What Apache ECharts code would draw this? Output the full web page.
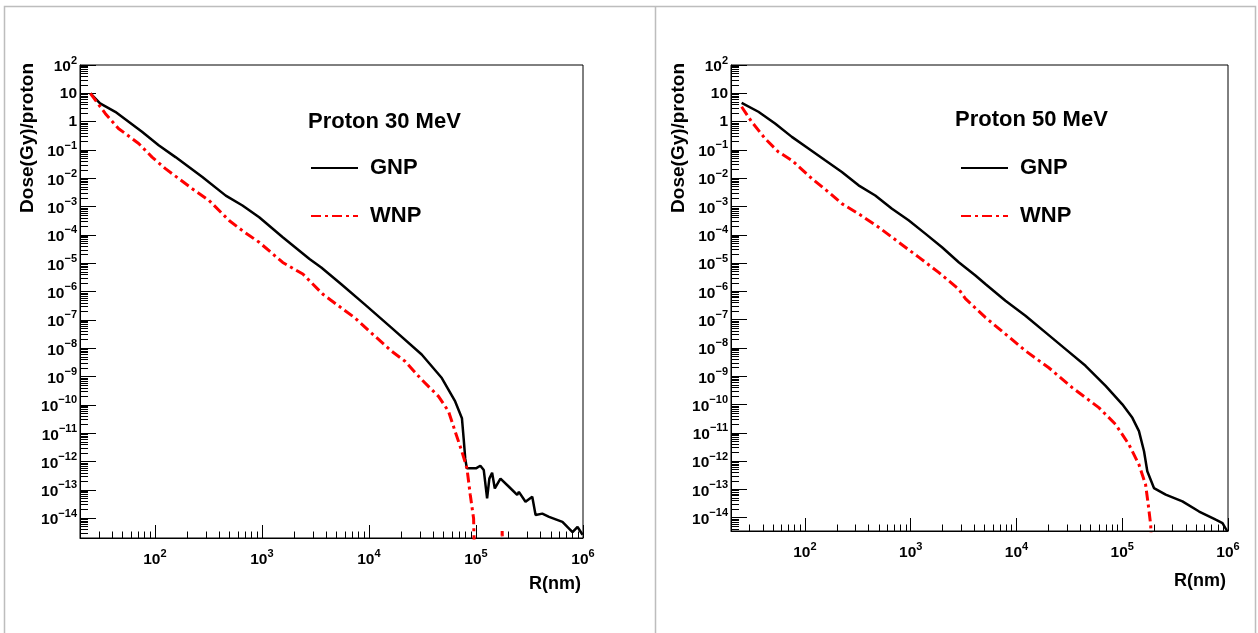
<!DOCTYPE html>
<html><head><meta charset="utf-8">
<script src="https://cdn.jsdelivr.net/npm/echarts@6/dist/echarts.min.js"></script>
<style>html,body{margin:0;padding:0;background:#fff}#c{width:1258px;height:633px}</style>
</head><body><div id="c"></div>
<script>
// ---------------- data ----------------
// Proton 30 MeV
const r30Gnp = [25, 30.8, 42.7, 75.9, 108.6, 156, 278, 460, 659, 944, 1567, 2786, 3589, 5521, 9141, 16290, 31120, 47970, 63970, 73960, 76740, 79430, 82220, 100000, 109900, 118300, 127100, 133400, 141600, 150000, 169400, 203200, 242700, 251800, 290400, 335700, 360600, 416900, 482000, 642700, 798000, 889200, 990800];
const d30Gnp = [10, 4.4, 2.23, 0.44, 0.148, 0.056, 0.0112, 2.45e-3, 1.1e-3, 4.2e-4, 8.3e-5, 1.41e-5, 7.1e-6, 1.82e-6, 3.55e-7, 5.25e-8, 6.0e-9, 8.9e-10, 1.32e-10, 3.4e-11, 6.6e-12, 1.26e-12, 5.75e-13, 5.75e-13, 7.1e-13, 5.0e-13, 5.0e-14, 2.5e-13, 4.0e-13, 1.12e-13, 2.5e-13, 1.29e-13, 6.6e-14, 8.5e-14, 3.8e-14, 5.75e-14, 1.29e-14, 1.45e-14, 1.12e-14, 7.4e-15, 3.2e-15, 4.9e-15, 2.6e-15];
const r30Wnp = [25, 34.4, 45.7, 70.6, 94.2, 125.6, 223.9, 320.6, 494.3, 659, 944, 1567, 2415, 3715, 5728, 7362, 11350, 16290, 21730, 31120, 44670, 55460, 63970, 73960, 82410, 88510, 95060, 97700, 172000, 175800, 179000, 1000000];
// empty bins (drawn below the frame) are given as 1e-16
const d30Wnp = [10, 1.95, 0.575, 0.17, 0.056, 0.0219, 4.27e-3, 1.66e-3, 3.24e-4, 1.41e-4, 5.5e-5, 1.07e-5, 4.17e-6, 8.1e-7, 2.4e-7, 1.2e-7, 2.69e-8, 7.9e-9, 3.47e-9, 7.8e-10, 2.0e-10, 5.9e-11, 1.15e-11, 2.24e-12, 5.75e-13, 6.6e-14, 9.8e-15, 1e-16, 1e-16, 3.5e-15, 1e-16, 1e-16];
// Proton 50 MeV
const r50Gnp = [25.2, 36.3, 52.2, 75.2, 107.9, 155.2, 223.4, 321.4, 462.4, 665.3, 955, 1374, 1977, 2844, 4093, 5082, 7870, 12160, 18790, 29110, 44980, 69660, 100200, 124700, 143900, 160700, 172600, 199500, 257600, 370700, 533300, 765600, 887200, 988600];
const d50Gnp = [4.6, 2.23, 0.863, 0.288, 0.112, 0.0427, 0.0166, 5.6e-3, 2.45e-3, 8.3e-4, 3.24e-4, 1.1e-4, 3.63e-5, 1.07e-5, 3.63e-6, 1.82e-6, 4.68e-7, 1.38e-7, 3.55e-8, 9.1e-9, 2.34e-9, 4.57e-10, 1.02e-10, 3.39e-11, 1.15e-11, 2.24e-12, 4.37e-13, 1.12e-13, 6.6e-14, 3.8e-14, 1.66e-14, 8.5e-15, 6.5e-15, 3.2e-15];
const r50Wnp = [25.2, 31.4, 42, 56.1, 75.2, 116.1, 166.7, 223.4, 321.4, 496.6, 767.4, 1189, 1837, 2844, 3289, 5082, 7870, 12160, 20230, 33650, 60120, 86500, 115600, 143900, 166300, 176200, 185800, 192800, 1000000];
const d50Wnp = [3.35, 0.98, 0.251, 0.085, 0.0427, 9.8e-3, 3.24e-3, 1.26e-3, 5.5e-4, 1.86e-4, 5.5e-5, 1.62e-5, 4.68e-6, 1.2e-6, 5.5e-7, 1.2e-7, 3.1e-8, 7.9e-9, 2.0e-9, 3.98e-10, 7.8e-11, 2.0e-11, 3.9e-12, 7.6e-13, 1.48e-13, 2.9e-14, 5.6e-15, 1e-16, 1e-16];

const panelTitles = ['Proton 30 MeV', 'Proton 50 MeV'];
const seriesNames = ['GNP', 'WNP'];
const xMajor = [1e2, 1e3, 1e4, 1e5, 1e6];
const yMajor = [1e-14, 1e-13, 1e-12, 1e-11, 1e-10, 1e-9, 1e-8, 1e-7, 1e-6, 1e-5, 1e-4, 1e-3, 1e-2, 1e-1, 1, 10, 100];
const xRange = [20, 1e6];
const yRanges = [[2e-15, 100], [3.4e-15, 100]];
const xTitle = 'R(nm)';
const yTitle = 'Dose(Gy)/proton';

// ---------------- helpers ----------------
const FONT = '"Liberation Sans", Arial, Helvetica, sans-serif';
function minorTicks(lo, hi) {
  const out = [];
  for (let d = Math.floor(Math.log10(lo)) - 1; d <= Math.ceil(Math.log10(hi)); d++) {
    for (let k = 2; k <= 9; k++) {
      const v = k * Math.pow(10, d);
      if (v > lo * 1.0001 && v < hi * 0.9999) out.push(v);
    }
  }
  return out;
}
function sci(v) {
  const e = Math.round(Math.log10(v));
  if (e === 0) return '1';
  if (e === 1) return '10';
  return '{b|10}{s|' + (e < 0 ? '\u2212' + (-e) : e) + '}';
}
const rich = {
  b: { fontSize: 15.5, fontWeight: 'bold', fontFamily: FONT, color: '#000', lineHeight: 20, verticalAlign: 'bottom' },
  s: { fontSize: 11, fontWeight: 'bold', fontFamily: FONT, color: '#000', lineHeight: 11, verticalAlign: 'top' }
};
function pairs(xs, ys) { return xs.map((x, i) => [x, ys[i]]); }

const grids = [
  { left: 80, top: 65, width: 503, height: 473 },
  { left: 731, top: 65, width: 497, height: 466 }
];
const legendLeft = [310, 960];
const titleLeft = [308, 955];
const titleTop = [111, 109];
const xNamePad = [37, 41];

const option = {
  animation: false,
  backgroundColor: '#fff',
  grid: grids.map(g => Object.assign({ show: true, borderColor: '#000', borderWidth: 1, backgroundColor: 'transparent', containLabel: false }, g)),
  title: panelTitles.map((t, i) => ({
    text: t, left: titleLeft[i], top: titleTop[i], padding: 0,
    textStyle: { fontSize: 22, fontWeight: 'bold', color: '#000', fontFamily: FONT }
  })),
  legend: [0, 1].map(i => ({
    data: seriesNames, orient: 'vertical', left: legendLeft[i], top: 157, padding: 0,
    itemWidth: 47, itemHeight: 24, itemGap: 26, selectedMode: false,
    itemStyle: { opacity: 0, borderWidth: 0 },
    textStyle: { fontSize: 22, fontWeight: 'bold', color: '#000', fontFamily: FONT, padding: [0, 0, 0, 7] }
  })),
  xAxis: [],
  yAxis: [],
  series: [],
  graphic: [
    { type: 'rect', silent: true, shape: { x: 4.5, y: 6.5, width: 1251, height: 630 }, style: { fill: null, stroke: '#bdbdbd', lineWidth: 1.5 } },
    { type: 'line', silent: true, shape: { x1: 655.5, y1: 6, x2: 655.5, y2: 633 }, style: { stroke: '#bdbdbd', lineWidth: 1.5 } }
  ]
};

const xMinor = minorTicks(xRange[0], xRange[1]);
[0, 1].forEach(g => {
  const yMinor = minorTicks(yRanges[g][0], yRanges[g][1]);
  option.xAxis.push({
    type: 'log', logBase: 10, gridIndex: g, min: xRange[0], max: xRange[1], position: 'bottom',
    axisLine: { show: true, lineStyle: { color: '#000', width: 1 } },
    axisTick: { show: true, inside: true, length: 13, customValues: xMajor, lineStyle: { color: '#000', width: 1 } },
    axisLabel: { show: true, customValues: xMajor, formatter: sci, margin: 10, rich: rich, color: '#000' },
    splitLine: { show: false }, minorTick: { show: false },
    name: xTitle, nameLocation: 'end', nameGap: -2,
    nameTextStyle: { fontSize: 18, fontWeight: 'bold', color: '#000', fontFamily: FONT, align: 'right', verticalAlign: 'top', padding: [xNamePad[g], 0, 0, 0] }
  });
  option.xAxis.push({
    type: 'log', logBase: 10, gridIndex: g, min: xRange[0], max: xRange[1], position: 'bottom',
    axisLine: { show: false },
    axisTick: { show: true, inside: true, length: 6.5, customValues: xMinor, lineStyle: { color: '#000', width: 1 } },
    axisLabel: { show: false }, splitLine: { show: false }
  });
  option.yAxis.push({
    type: 'log', logBase: 10, gridIndex: g, min: yRanges[g][0], max: yRanges[g][1], position: 'left',
    axisLine: { show: true, lineStyle: { color: '#000', width: 1 } },
    axisTick: { show: true, inside: true, length: 16, customValues: yMajor, lineStyle: { color: '#000', width: 1 } },
    axisLabel: { show: true, customValues: yMajor, formatter: sci, margin: 3, rich: rich, color: '#000', fontSize: 15.5, fontWeight: 'bold', fontFamily: FONT },
    splitLine: { show: false },
    name: yTitle, nameLocation: 'end', nameRotate: 90, nameGap: 2,
    nameTextStyle: { fontSize: 19, fontWeight: 'bold', color: '#000', fontFamily: FONT, align: 'right', verticalAlign: 'bottom', padding: [0, 0, 43, 0] }
  });
  option.yAxis.push({
    type: 'log', logBase: 10, gridIndex: g, min: yRanges[g][0], max: yRanges[g][1], position: 'left',
    axisLine: { show: false },
    axisTick: { show: true, inside: true, length: 8, customValues: yMinor, lineStyle: { color: '#000', width: 1 } },
    axisLabel: { show: false }, splitLine: { show: false }
  });
});

const sets = [[[r30Gnp, d30Gnp], [r30Wnp, d30Wnp]], [[r50Gnp, d50Gnp], [r50Wnp, d50Wnp]]];
sets.forEach((pair, g) => {
  pair.forEach((s, k) => {
    option.series.push({
      name: seriesNames[k], type: 'line', xAxisIndex: g * 2, yAxisIndex: g * 2,
      data: pairs(s[0], s[1]), showSymbol: false, symbol: 'none', clip: true,
      lineStyle: k === 0 ? { color: '#000', width: 2.5, type: 'solid' } : { color: '#ff0000', width: 3, type: [10, 4, 3, 4] },
      itemStyle: { color: k === 0 ? '#000' : '#ff0000' }
    });
  });
});

const chart = echarts.init(document.getElementById('c'), null, { renderer: 'canvas' });
chart.setOption(option);
</script>
</body></html>
